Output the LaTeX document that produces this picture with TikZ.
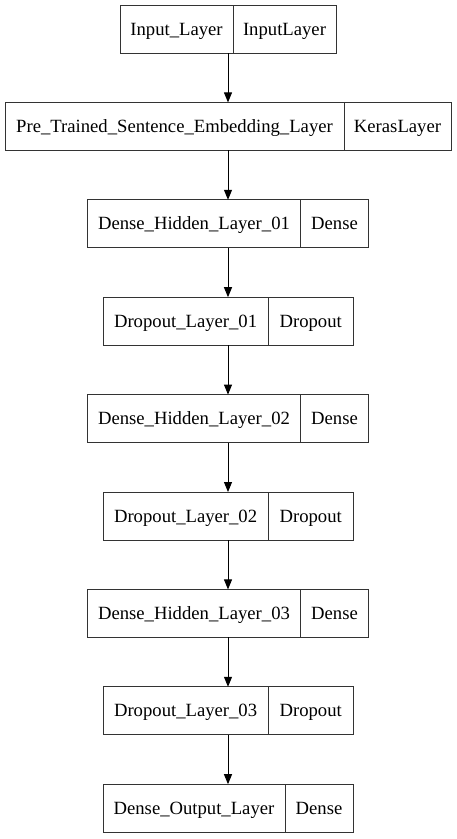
\documentclass[tikz,border=0pt]{standalone}
\usepackage{fontspec}
\setmainfont{Liberation Serif}
\usetikzlibrary{arrows.meta}
\begin{document}
\begin{tikzpicture}[x=1pt,y=-1pt,
  box/.style={draw=black!80, line width=1pt, minimum height=48pt, inner sep=0pt, outer sep=0pt},
  lbl/.style={inner sep=0pt, anchor=base, yshift=-6pt, font=\fontsize{18.67}{22}\selectfont},
  divider/.style={draw=black!80, line width=1pt},
  arr/.style={draw=black, line width=1pt, -{Triangle[length=10pt,width=8pt]}}]
\useasboundingbox (0,0) rectangle (456,839);
% box 1
\node[box, minimum width=216pt] (b1) at (228,29) {};
\draw[divider] (233,5) -- (233,53);
\node[lbl] (b1l) at (176.5,29) {Input\_Layer};
\node[lbl] (b1r) at (284.5,29) {InputLayer};
% box 2
\node[box, minimum width=446pt] (b2) at (228,126.4) {};
\draw[divider] (344,102.4) -- (344,150.4);
\node[lbl] (b2l) at (174.5,126.4) {Pre\_Trained\_Sentence\_Embedding\_Layer};
\node[lbl] (b2r) at (397.5,126.4) {KerasLayer};
% box 3
\node[box, minimum width=281pt] (b3) at (228,223.8) {};
\draw[divider] (300.5,199.8) -- (300.5,247.8);
\node[lbl] (b3l) at (194,223.8) {Dense\_Hidden\_Layer\_01};
\node[lbl] (b3r) at (334.5,223.8) {Dense};
% box 4
\node[box, minimum width=250pt] (b4) at (228,321.2) {};
\draw[divider] (268.3,297.2) -- (268.3,345.2);
\node[lbl] (b4l) at (185.6,321.2) {Dropout\_Layer\_01};
\node[lbl] (b4r) at (310.7,321.2) {Dropout};
% box 5
\node[box, minimum width=281pt] (b5) at (228,418.6) {};
\draw[divider] (300.5,394.6) -- (300.5,442.6);
\node[lbl] (b5l) at (194,418.6) {Dense\_Hidden\_Layer\_02};
\node[lbl] (b5r) at (334.5,418.6) {Dense};
% box 6
\node[box, minimum width=250pt] (b6) at (228,516) {};
\draw[divider] (268.3,492) -- (268.3,540);
\node[lbl] (b6l) at (185.6,516) {Dropout\_Layer\_02};
\node[lbl] (b6r) at (310.7,516) {Dropout};
% box 7
\node[box, minimum width=281pt] (b7) at (228,613.4) {};
\draw[divider] (300.5,589.4) -- (300.5,637.4);
\node[lbl] (b7l) at (194,613.4) {Dense\_Hidden\_Layer\_03};
\node[lbl] (b7r) at (334.5,613.4) {Dense};
% box 8
\node[box, minimum width=250pt] (b8) at (228,710.8) {};
\draw[divider] (268.3,686.8) -- (268.3,734.8);
\node[lbl] (b8l) at (185.6,710.8) {Dropout\_Layer\_03};
\node[lbl] (b8r) at (310.7,710.8) {Dropout};
% box 9
\node[box, minimum width=250pt] (b9) at (228,808.2) {};
\draw[divider] (285,784.2) -- (285,832.2);
\node[lbl] (b9l) at (194,808.2) {Dense\_Output\_Layer};
\node[lbl] (b9r) at (319,808.2) {Dense};
% arrows
\draw[arr] (b1.south) -- (b2.north);
\draw[arr] (b2.south) -- (b3.north);
\draw[arr] (b3.south) -- (b4.north);
\draw[arr] (b4.south) -- (b5.north);
\draw[arr] (b5.south) -- (b6.north);
\draw[arr] (b6.south) -- (b7.north);
\draw[arr] (b7.south) -- (b8.north);
\draw[arr] (b8.south) -- (b9.north);
\end{tikzpicture}
\end{document}
